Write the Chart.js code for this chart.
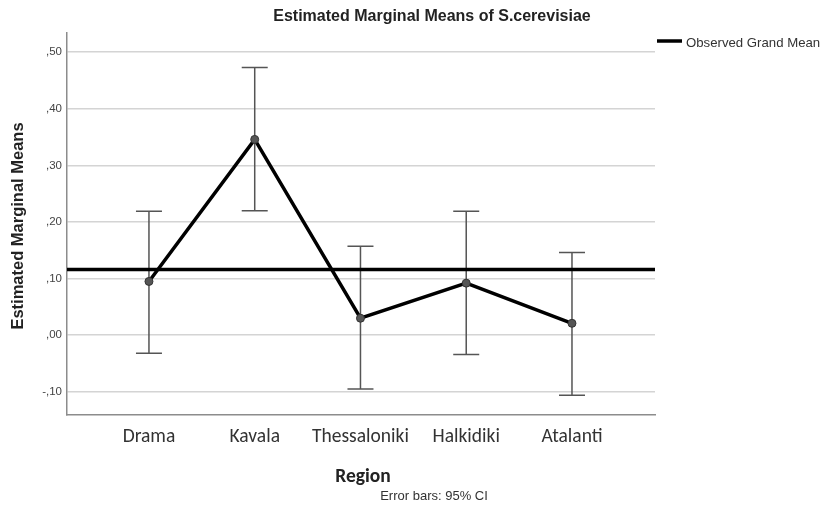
<!DOCTYPE html>
<html>
<head>
<meta charset="utf-8">
<script src="https://cdn.jsdelivr.net/npm/chart.js@4.4.0/dist/chart.umd.min.js"></script>
<style>
html, body { margin: 0; padding: 0; background: #fff; }
</style>
</head>
<body>
<canvas id="myChart" width="821" height="506"></canvas>
<script>
// values
const regions = ['Drama', 'Kavala', 'Thessaloniki', 'Halkidiki', 'Atalanti'];
const means = [0.095, 0.346, 0.030, 0.092, 0.021];
const ciLow = [-0.032, 0.220, -0.095, -0.034, -0.106];
const ciHigh = [0.219, 0.473, 0.157, 0.219, 0.146];
const grandMean = 0.116;
const yTicks = [-0.1, 0, 0.1, 0.2, 0.3, 0.4, 0.5];

// SPSS style numbers: ,50 / -,10
function spssNum(v) {
    return v.toFixed(2).replace('0.', ',');
}

const emmPlot = {
    id: 'emmPlot',
    beforeDatasetsDraw(chart) {
        const ctx = chart.ctx;
        const xs = chart.scales.x, ys = chart.scales.y;
        const area = chart.chartArea;
        ctx.save();
        // error bars
        ctx.strokeStyle = '#555';
        ctx.lineWidth = 1.5;
        for (let i = 0; i < regions.length; i++) {
            const px = xs.getPixelForValue(i);
            const lo = ys.getPixelForValue(ciLow[i]);
            const hi = ys.getPixelForValue(ciHigh[i]);
            ctx.beginPath();
            ctx.moveTo(px, lo); ctx.lineTo(px, hi);
            ctx.moveTo(px - 13, lo); ctx.lineTo(px + 13, lo);
            ctx.moveTo(px - 13, hi); ctx.lineTo(px + 13, hi);
            ctx.stroke();
        }
        // observed grand mean
        const gy = ys.getPixelForValue(grandMean);
        ctx.strokeStyle = '#000';
        ctx.lineWidth = 3.5;
        ctx.beginPath();
        ctx.moveTo(area.left, gy); ctx.lineTo(area.right, gy);
        ctx.stroke();
        ctx.restore();
    },
    afterDraw(chart) {
        const ctx = chart.ctx;
        ctx.save();
        ctx.fillStyle = '#222';
        ctx.textBaseline = 'middle';
        ctx.textAlign = 'center';
        ctx.font = 'bold 16px "Liberation Sans", Arial';
        ctx.fillText('Estimated Marginal Means of S.cerevisiae', 432, 17);

        ctx.font = 'bold 19.5px Carlito, Lato, sans-serif';
        ctx.fillText('Region', 363, 477);

        ctx.fillStyle = '#333';
        ctx.font = '13px "Liberation Sans", Arial';
        ctx.fillText('Error bars: 95% CI', 434, 496);

        ctx.save();
        ctx.translate(18, 226);
        ctx.rotate(-Math.PI / 2);
        ctx.fillStyle = '#222';
        ctx.font = 'bold 16.5px "Liberation Sans", Arial';
        ctx.fillText('Estimated Marginal Means', 0, 0);
        ctx.restore();

        // legend
        ctx.strokeStyle = '#000';
        ctx.lineWidth = 3.5;
        ctx.beginPath();
        ctx.moveTo(657, 41); ctx.lineTo(682, 41);
        ctx.stroke();
        ctx.textAlign = 'left';
        ctx.fillStyle = '#333';
        ctx.font = '13.2px "Liberation Sans", Arial';
        ctx.fillText('Observed Grand Mean', 686, 43);
        ctx.restore();
    }
};

const ctx = document.getElementById('myChart').getContext('2d');
const myChart = new Chart(ctx, {
    type: 'line',
    data: {
        datasets: [{
            data: means.map((m, i) => ({ x: i, y: m })),
            borderColor: '#000',
            borderWidth: 3.5,
            tension: 0,
            pointRadius: 4,
            pointBackgroundColor: '#555',
            pointBorderColor: '#333',
            pointBorderWidth: 1
        }]
    },
    options: {
        responsive: false,
        animation: false,
        devicePixelRatio: 1,
        layout: { padding: { top: 33, right: 166, left: 0, bottom: 0 } },
        plugins: {
            legend: { display: false },
            tooltip: { enabled: false },
            title: { display: false }
        },
        scales: {
            x: {
                type: 'linear',
                min: -0.775,
                max: 4.785,
                afterBuildTicks: s => { s.ticks = regions.map((r, i) => ({ value: i })); },
                afterFit: s => { s.height = 91; },
                ticks: {
                    callback: v => regions[v],
                    font: { family: 'Carlito, Lato, sans-serif', size: 19.5 },
                    color: '#333',
                    padding: 10,
                    maxRotation: 0,
                    autoSkip: false
                },
                grid: { display: false, drawTicks: false },
                border: { color: '#8c8c8c', width: 1.5 }
            },
            y: {
                min: -0.141,
                max: 0.534,
                afterBuildTicks: s => { s.ticks = yTicks.map(v => ({ value: v })); },
                afterFit: s => { s.width = 67; },
                ticks: {
                    callback: v => spssNum(v),
                    font: { family: '"Liberation Sans", Arial', size: 11.5 },
                    color: '#444',
                    padding: 5
                },
                grid: { color: '#d4d4d4', lineWidth: 1.5, drawTicks: false },
                border: { color: '#8c8c8c', width: 1.5 }
            }
        }
    },
    plugins: [emmPlot]
});
</script>
</body>
</html>
